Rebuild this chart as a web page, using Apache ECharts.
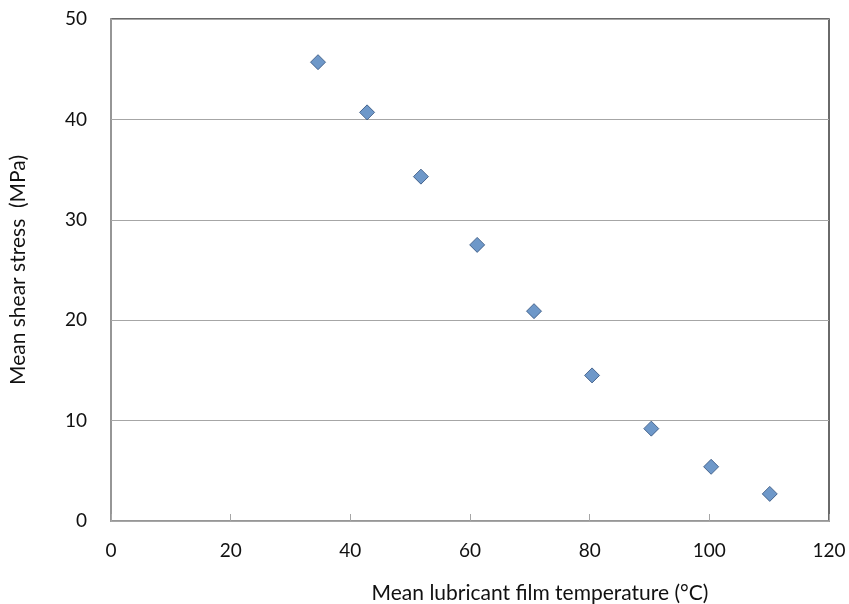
<!DOCTYPE html>
<html><head><meta charset="utf-8">
<script src="https://cdn.jsdelivr.net/npm/echarts@6/dist/echarts.min.js"></script>
<style>html,body{margin:0;padding:0;background:#fff}#c{width:849px;height:604px}</style>
</head><body><div id="c"></div>
<script>
const temperature = [34.6, 42.8, 51.8, 61.2, 70.7, 80.4, 90.3, 100.3, 110.1];
const shearStress = [45.7, 40.7, 34.3, 27.5, 20.9, 14.5, 9.2, 5.4, 2.7];
const xTitle = 'Mean lubricant film temperature (°C)';
const yTitle = 'Mean shear stress  (MPa)';
const FONT = 'Lato, "Open Sans", sans-serif';
const chart = echarts.init(document.getElementById('c'));
chart.setOption({
  animation: false,
  backgroundColor: '#fff',
  grid: {left: 111, right: 20, top: 19, bottom: 83, outerBoundsMode: 'none', containLabel: false, show: true, borderColor: '#3a3a3a', borderWidth: 1.5, backgroundColor: 'transparent'},
  xAxis: {
    type: 'value', min: 0, max: 120, interval: 20,
    name: xTitle, nameLocation: 'middle', nameGap: 62,
    nameTextStyle: {fontFamily: FONT, fontSize: 21, color: '#111', padding: [0, 0, 0, 140]},
    axisLine: {lineStyle: {color: '#a6a6a6', width: 1.5}},
    axisTick: {inside: true, length: 7, lineStyle: {color: '#a6a6a6'}},
    axisLabel: {fontFamily: FONT, fontSize: 19, color: '#111', margin: 20},
    splitLine: {show: false}
  },
  yAxis: {
    type: 'value', min: 0, max: 50, interval: 10,
    name: yTitle, nameLocation: 'middle', nameGap: 82,
    nameTextStyle: {fontFamily: FONT, fontSize: 21, color: '#111'},
    axisLine: {show: true, lineStyle: {color: '#a6a6a6', width: 1.5}},
    axisTick: {show: false},
    axisLabel: {fontFamily: FONT, fontSize: 19, color: '#111', margin: 24},
    splitLine: {lineStyle: {color: '#a6a6a6', width: 1}}
  },
  series: [{
    type: 'scatter',
    data: temperature.map((t, i) => [t, shearStress[i]]),
    symbol: 'diamond', symbolSize: 15,
    itemStyle: {color: '#4a7ebb', borderColor: '#2f4f7a', borderWidth: 1}
  }]
});
</script></body></html>
